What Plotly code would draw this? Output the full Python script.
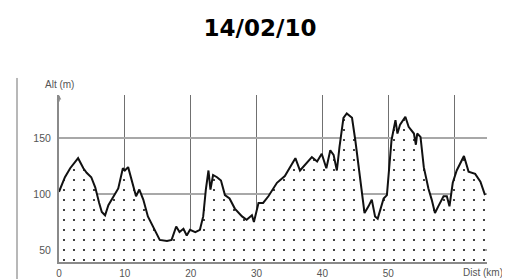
import plotly.graph_objects as go

dist_km = [0.0, 0.9, 1.7, 2.9, 3.7, 4.2, 4.9, 5.5, 6.1, 6.5, 7.0, 7.5, 8.3, 9.0, 9.7, 10.0, 10.5,
           11.0, 11.7, 12.2, 12.8, 13.5, 14.3, 15.3, 16.4, 17.1, 17.8, 18.3, 18.9, 19.4, 19.9,
           20.7, 21.4, 21.9, 22.3, 22.7, 23.0, 23.4, 24.0, 24.6, 25.2, 25.9, 26.7, 27.8, 28.5,
           29.3, 29.6, 30.3, 31.0, 31.8, 33.1, 34.3, 35.4, 35.9, 36.6, 37.4, 38.4, 39.2, 39.9,
           40.6, 41.2, 41.7, 42.2, 42.6, 43.2, 43.7, 44.5, 45.0, 45.5, 46.0, 46.4, 47.0, 47.5,
           48.0, 48.4, 49.3, 49.8, 50.5, 51.1, 51.4, 51.8, 52.6, 53.1, 53.9, 54.2, 54.4, 54.9,
           55.4, 56.1, 56.6, 57.1, 57.6, 58.4, 58.9, 59.3, 59.8, 60.4, 61.5, 62.2, 63.2, 64.0, 64.7]
alt_m = [102, 115, 123, 132, 123, 119, 115, 106, 92, 84, 81, 90, 98, 105, 123, 121, 124,
         112, 98, 104, 95, 80, 71, 59, 58, 59, 71, 66, 69, 63, 68,
         66, 68, 80, 104, 121, 104, 117, 115, 112, 99, 96, 87, 80, 77,
         81, 75, 92, 92, 98, 110, 116, 127, 132, 121, 126, 133, 129, 136,
         123, 139, 135, 121, 142, 168, 172, 168, 148, 124, 98, 83, 89, 95,
         80, 78, 96, 99, 148, 166, 154, 162, 169, 160, 154, 144, 154, 151,
         124, 105, 95, 83, 89, 98, 98, 89, 110, 121, 134, 120, 118, 111, 99]

x_tickvals = [0, 10, 20, 30, 40, 50, 60]
x_ticktext = ["0", "10", "20", "30", "40", "50", ""]
y_tickvals = [50, 100, 150]
title_text = "14/02/10"

# page body has an 8px margin, so the figure is sized/offset to compensate
W, H = 502, 271

fig = go.Figure()
fig.add_trace(go.Scatter(
    x=dist_km, y=alt_m, mode="lines",
    line=dict(color="#111111", width=2),
    fill="tozeroy",
    fillcolor="white",
    fillpattern=dict(shape=".", size=10, solidity=0.03, fgcolor="black", bgcolor="white", fillmode="replace"),
    hoverinfo="skip", showlegend=False,
))

fig.update_layout(
    width=W, height=H,
    margin=dict(l=51, r=23, t=87, b=17, autoexpand=False),
    paper_bgcolor="white", plot_bgcolor="white",
    title=dict(text="<b>" + title_text + "</b>", x=252 / W, xref="container", xanchor="center",
               y=1 - 19.5 / H, yref="container", yanchor="middle",
               font=dict(family="DejaVu Sans", size=23, color="black")),
    xaxis=dict(range=[0, 65], tickvals=x_tickvals, ticktext=x_ticktext,
               showgrid=True, gridcolor="#707070", gridwidth=1,
               showline=True, linecolor="#8a8a8a", linewidth=2,
               ticks="", zeroline=False, ticklabelstandoff=1, automargin=False,
               tickfont=dict(family="Liberation Sans", size=10, color="#555555")),
    yaxis=dict(range=[39.3, 188.4], tickvals=y_tickvals,
               showgrid=True, gridcolor="#a8a8a8", gridwidth=2,
               showline=True, linecolor="#8a8a8a", linewidth=2,
               ticks="", zeroline=False, ticklabelstandoff=4, automargin=False,
               tickfont=dict(family="Liberation Sans", size=10.5, color="#555555")),
    annotations=[
        dict(text="Alt (m)", xref="paper", yref="paper", x=0, y=1, yshift=11,
             xanchor="center", yanchor="middle", showarrow=False,
             font=dict(family="Liberation Sans", size=10, color="#555555")),
        dict(text="Dist (km)", xref="paper", yref="paper", x=1, y=0, yshift=-10, xshift=18,
             xanchor="right", yanchor="middle", showarrow=False,
             font=dict(family="Liberation Sans", size=10, color="#555555")),
        dict(text="", xref="paper", yref="paper", x=0, y=1, ax=0, ay=8,
             showarrow=True, arrowhead=2, arrowsize=0.6, arrowwidth=1.5, arrowcolor="#8a8a8a"),
    ],
    shapes=[
        dict(type="line", xref="paper", yref="paper", x0=-0.0981, x1=-0.0981, y0=-0.11, y1=1.102,
             line=dict(color="#b8b8b8", width=2)),
    ],
)

fig.write_html("out.html")
